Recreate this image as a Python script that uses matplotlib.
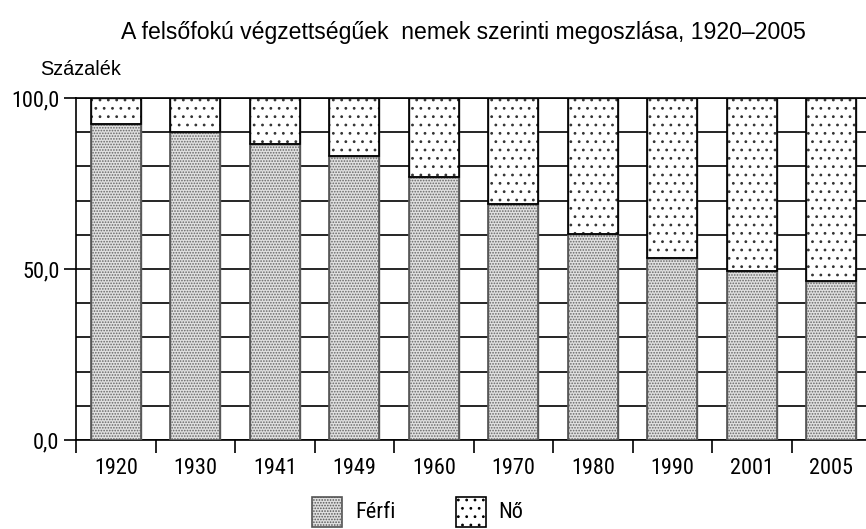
import matplotlib
matplotlib.use("Agg")
import matplotlib.pyplot as plt
from matplotlib.patches import Rectangle
import numpy as np

years = ["1920", "1930", "1941", "1949", "1960", "1970", "1980", "1990", "2001", "2005"]
ferfi = [92.4, 90.0, 86.5, 83.0, 76.9, 69.0, 60.1, 53.1, 49.5, 46.6]
no = [100 - v for v in ferfi]

NARROW = ['Roboto Condensed', 'DejaVu Sans']
WIDE = ['Liberation Sans', 'DejaVu Sans']
plt.rcParams['font.family'] = NARROW
plt.rcParams['hatch.linewidth'] = 0.8

FERFI_FC = '#e0e0e0'
FERFI_HATCH = '......'
NO_HATCH = '..'

fig = plt.figure(figsize=(8.66, 5.29), dpi=100)
ax = fig.add_axes([76/866, 1-440/529, 795/866, 342/529])

x = np.arange(len(years))
w = 0.63
ax.bar(x, ferfi, width=w, facecolor=FERFI_FC, edgecolor='#666666', hatch=FERFI_HATCH, linewidth=1.0, zorder=3)
ax.bar(x, no, width=w, bottom=ferfi, facecolor='white', edgecolor='#333333', hatch=NO_HATCH, linewidth=1.0, zorder=3)
ax.bar(x, ferfi, width=w, fill=False, edgecolor='#555555', linewidth=1.2, zorder=4)
ax.bar(x, no, width=w, bottom=ferfi, fill=False, edgecolor='black', linewidth=1.2, zorder=4)

ax.set_xlim(-0.5, len(years) - 0.5)
ax.set_ylim(0, 100)
ax.set_yticks([0, 50, 100])
ax.set_yticklabels(["0,0", "50,0", "100,0"], fontsize=16)
ax.set_yticks(np.arange(0, 101, 10), minor=True)
ax.tick_params(axis='y', which='major', length=9, width=1.2, direction='out', pad=3)
ax.tick_params(axis='y', which='minor', length=0)
ax.set_xticks(x)
ax.set_xticklabels(years, fontsize=16)
ax.set_xticks(np.arange(-0.5, len(years), 1.0), minor=True)
ax.tick_params(axis='x', which='major', length=0, pad=13)
ax.tick_params(axis='x', which='minor', length=9, width=1.2, direction='out')
ax.grid(axis='y', which='both', color='black', linewidth=1.2, zorder=0)
ax.set_axisbelow(True)
for s in ax.spines.values():
    s.set_linewidth(1.2)
    s.set_color('black')

fig.text(463/866, 1-33/529, "A felsőfokú végzettségűek  nemek szerinti megoszlása, 1920–2005",
         ha='center', va='center', fontsize=16.6, family=WIDE)
fig.text(40/866, 1-70/529, "Százalék", ha='left', va='center', fontsize=14.3, family=WIDE)

# legend
lax = fig.add_axes([0, 0, 1, 1], facecolor='none')
lax.set_xlim(0, 866); lax.set_ylim(529, 0); lax.axis('off')
lax.add_patch(Rectangle((312, 497), 30, 30, facecolor=FERFI_FC, edgecolor='#555555', hatch=FERFI_HATCH, linewidth=1.2))
lax.add_patch(Rectangle((456, 497), 30, 30, facecolor='white', edgecolor='black', hatch=NO_HATCH, linewidth=1.2))
lax.text(355, 512, "Férfi", ha='left', va='center', fontsize=16)
lax.text(498, 512, "Nő", ha='left', va='center', fontsize=16)

fig.savefig("out.png", dpi=100)
